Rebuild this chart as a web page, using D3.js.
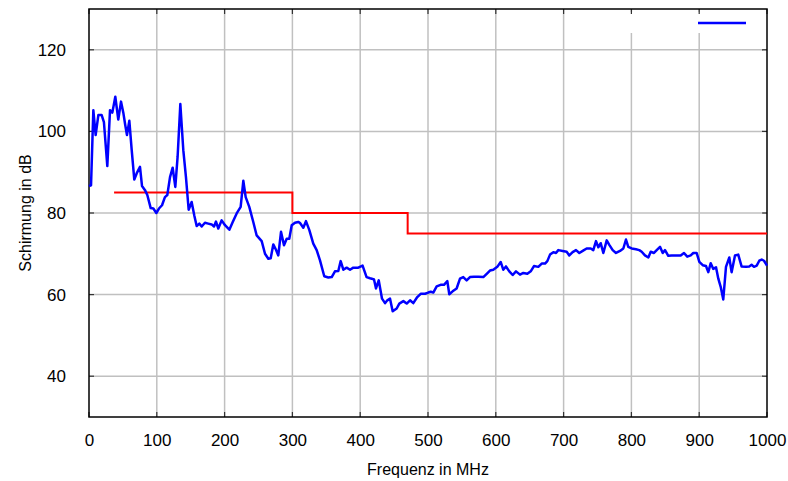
<!DOCTYPE html>
<html>
<head>
<meta charset="utf-8">
<script src="https://cdn.jsdelivr.net/npm/d3@7"></script>
<style>
  body { margin: 0; background: #fff; }
  text { font-family: "Liberation Sans", Arial, sans-serif; fill: #000; }
</style>
</head>
<body>
<div class="chart"></div>
<script>
// measured shielding (blue), frequency in MHz
var freq = [0,3,6.4,9.8,13.8,18.7,22,27,31,34.4,38.8,43.2,47.2,50.6,53.5,56,59.5,63,66.8,70.3,75.2,78.2,82.6,86,91,94.9,99.3,103.2,107.7,112,115.5,119.5,123.4,127.3,130.7,134.7,139.1,143,147,151.4,155.3,158.8,162.7,166.2,171,175.9,180.9,184.4,187.3,190.7,195.7,200.6,207,212,217.8,223.7,227.6,231.1,236.4,242.3,247.3,254.7,259.6,264.5,268,271.8,275.8,279.2,283.2,287.6,291.6,295.4,299,303.8,308.7,311,316.1,320,325,330.8,335.8,340.7,347,353,358,362.8,367.7,371.2,375.1,380,385,389.8,397.2,403.5,409.4,414.5,417,420.4,423.3,427.3,432.2,436.6,440,444,447.9,453.8,457.7,463.6,468.6,473.5,478.3,484.2,489.2,495.6,500.4,504,507.8,512.8,518.6,523.6,528.5,531.4,536.3,542.2,547.2,552,557,561.9,567.8,574.2,581.6,586.6,591.4,596.3,602.2,607.2,611,615,619.9,624.9,629.8,635.7,640.6,646.5,651.5,656.3,662.7,667.7,672.6,676,680,684.9,688.8,692.2,698.6,704.5,708.4,713.3,718.3,723.2,728.2,734,740,743.8,747.8,751.2,754.7,758.6,763.6,767.4,772.4,777.3,783.2,788.1,792,795.4,800.4,806.8,811.6,815.2,820,825,828.5,833.3,837.3,842.2,846.2,849.6,854.4,859.4,865.8,872.7,877.6,882.4,887.5,891.3,896.3,900.2,905.2,910,913.4,917,920.8,924.8,928.2,931.7,935.5,939.5,944.4,947.8,952.8,957.6,962.5,968.9,973.8,977.3,980.8,984.8,988.6,992.2,995.6,1000];
var schirmung = [86.6,86.8,105.2,99.1,104,104,102.3,91.5,105.2,104.6,108.5,102.9,107.3,104.6,101.5,99.1,102.6,95.4,88.2,89.7,91.3,86.6,85.6,84.4,81.2,81.1,80,81.1,81.9,83.9,84.4,88.8,91.1,86.4,93.8,106.7,95.4,88.8,80.8,82.7,79.4,76.8,77.4,76.7,77.6,77.4,77.2,76.7,77.9,76.2,78.2,77,75.9,77.8,79.9,81.5,87.9,83.9,81.5,77.8,74.5,73.1,70,68.8,68.9,72.3,71,69.6,75.4,72.1,73.7,73.7,77,77.6,77.8,77.6,76.4,78,75.8,72.5,70.9,68.4,64.5,64.2,64.3,65.7,65.8,68.2,66.1,66.6,66.1,66.6,66.6,67.1,64.3,64,63.9,63.7,61.5,63.5,59,57.9,58.6,59,55.9,56.6,57.8,58.4,57.8,58.6,57.9,59.4,60.2,60.2,60.5,60.7,60.5,62,62.4,62.4,63.3,60.1,60.8,61.5,63.9,64.3,63.5,64.3,64.4,64.4,64.3,65.1,65.9,66.1,66.8,68,66.1,66.9,65.7,64.8,65.7,64.9,65.3,65.1,65.7,67,66.8,67.6,67.6,68.2,69.8,70.4,70.2,70.9,70.7,70.5,69.6,70.4,70.9,70.2,70.7,71.3,71.3,70.9,73.1,71.6,72.6,70.2,73.3,72.2,70.9,70.2,70.7,71.3,73.5,71.7,71.3,71.1,70.9,70.5,69.6,69.1,70.5,70.2,70.9,71.7,70.2,70.9,69.5,69.6,69.6,69.6,70.2,69.3,69.6,70.2,70.2,68,67.2,67,65.5,67.7,66.3,66.7,63.9,61.9,58.8,66.8,69.1,65.5,69.6,69.8,66.9,66.8,66.9,67.3,66.8,67.1,68.3,68.6,68.3,67.1];

// limit (red step line)
var limitFreq = [37, 300, 300, 470, 470, 1000];
var limitDb = [85, 85, 80, 80, 75, 75];

var xTicks = [0,100,200,300,400,500,600,700,800,900,1000];
var yTicks = [40,60,80,100,120];

var svgWidth = 788, svgHeight = 481;
var margin = {top: 9, right: 21, bottom: 64, left: 89};
var width = svgWidth - margin.left - margin.right;
var height = svgHeight - margin.top - margin.bottom;

var svg = d3.select('.chart').append('svg')
    .attr('width', svgWidth)
    .attr('height', svgHeight);
var chart = svg.append('g')
    .attr('transform', 'translate(' + margin.left + ',' + margin.top + ')');

var x = d3.scaleLinear().domain([0, 1000]).range([0, width]);
var y = d3.scaleLinear().domain([30, 130]).range([height, 0]);

// grid
chart.append('g').selectAll('line').data(xTicks.slice(1, -1)).enter().append('line')
    .attr('x1', d => x(d)).attr('x2', d => x(d))
    .attr('y1', 0).attr('y2', height)
    .attr('stroke', '#c0c0c0').attr('stroke-width', 1.5);
chart.append('g').selectAll('line').data(yTicks).enter().append('line')
    .attr('x1', 0).attr('x2', width)
    .attr('y1', d => y(d)).attr('y2', d => y(d))
    .attr('stroke', '#c0c0c0').attr('stroke-width', 1.5);

// key box blanks the grid under it
chart.append('rect')
    .attr('x', 520).attr('y', 3).attr('width', width - 521).attr('height', 21)
    .attr('fill', '#fff');

// axes
var bottomAxis = d3.axisBottom(x).tickValues(xTicks).tickFormat(d3.format('d')).tickSize(0).tickPadding(17);
var leftAxis = d3.axisLeft(y).tickValues(yTicks).tickFormat(d3.format('d')).tickSize(0).tickPadding(23);

var gx = chart.append('g').attr('transform', 'translate(0,' + height + ')').call(bottomAxis);
var gy = chart.append('g').call(leftAxis);
[gx, gy].forEach(function(g) {
    g.select('.domain').remove();
    g.selectAll('text').attr('font-size', '17px').attr('font-family', '"Liberation Sans", Arial, sans-serif');
});

// inward ticks on all four sides
var ticks = chart.append('g').attr('stroke', '#333').attr('stroke-width', 1.2);
xTicks.forEach(function(d) {
    ticks.append('line').attr('x1', x(d)).attr('x2', x(d)).attr('y1', height).attr('y2', height - 5);
    ticks.append('line').attr('x1', x(d)).attr('x2', x(d)).attr('y1', 0).attr('y2', 5);
});
yTicks.forEach(function(d) {
    ticks.append('line').attr('x1', 0).attr('x2', 5).attr('y1', y(d)).attr('y2', y(d));
    ticks.append('line').attr('x1', width).attr('x2', width - 5).attr('y1', y(d)).attr('y2', y(d));
});

// frame
chart.append('rect')
    .attr('x', 0).attr('y', 0).attr('width', width).attr('height', height)
    .attr('fill', 'none').attr('stroke', '#000').attr('stroke-width', 1.5);

// lines
var limitLine = d3.line().x(d => x(d[0])).y(d => y(d[1]));
chart.append('path')
    .datum(d3.zip(limitFreq, limitDb))
    .attr('d', limitLine)
    .attr('fill', 'none').attr('stroke', '#ff0000').attr('stroke-width', 2);

chart.append('path')
    .datum(d3.zip(freq, schirmung))
    .attr('d', limitLine)
    .attr('fill', 'none').attr('stroke', '#0000ff').attr('stroke-width', 2.5)
    .attr('stroke-linejoin', 'round');

// key sample
chart.append('line')
    .attr('x1', 609).attr('x2', 657).attr('y1', 14).attr('y2', 14)
    .attr('stroke', '#0000ff').attr('stroke-width', 2.5);

// axis labels
svg.append('text')
    .attr('x', margin.left + width / 2).attr('y', 475)
    .attr('text-anchor', 'middle').attr('font-size', '16px')
    .text('Frequenz in MHz');
svg.append('text')
    .attr('transform', 'translate(31,' + (margin.top + height / 2) + ') rotate(-90)')
    .attr('text-anchor', 'middle').attr('font-size', '16px')
    .text('Schirmung in dB');
</script>
</body>
</html>
